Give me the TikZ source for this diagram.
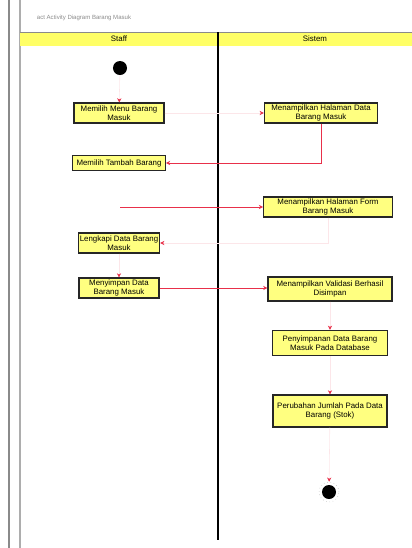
\documentclass[tikz,border=0pt]{standalone}
\usepackage{fontspec}
\setmainfont{Liberation Sans}
\usetikzlibrary{arrows.meta, positioning}
\definecolor{umlyellow}{HTML}{FFFF80}
\definecolor{laneyellow}{HTML}{FFFF66}
\definecolor{umlred}{HTML}{E8304A}
\definecolor{umlgray}{HTML}{8A8A8A}

\begin{document}
\begin{tikzpicture}[
  x=0.025cm, y=-0.025cm,
  every node/.style={font=\fontsize{5.6}{6.3}\selectfont},
  actbox/.style={rectangle, draw=black!85, line width=0.8pt, fill=umlyellow, align=center, minimum height=0.5cm, inner sep=1pt},
  flow/.style={umlred, line width=0.7pt, -{Stealth[length=3pt, width=3pt]}},
  faintflow/.style={umlred!12, line width=0.4pt, -{Stealth[length=3pt, width=3pt, color=umlred]}},
  dot/.style={circle, fill=black, inner sep=0pt},
]
\useasboundingbox (0,0) rectangle (412,548);

% frame and swimlanes
\draw[umlgray, line width=1.5pt] (9,0) -- (9,548);
\draw[umlgray!70, line width=0.8pt] (20,0) -- (20,548);
\node[anchor=west, text=umlgray, font=\fontsize{4.3}{5}\selectfont] (title) at (32,18) {act Activity Diagram Barang Masuk};
\fill[laneyellow] (20,32) rectangle (412,46);
\draw[umlgray, line width=0.4pt] (20,32) -- (412,32);
\draw[black, line width=0.8pt] (218,32) -- (218,540);
\node (staff) at (119,39) {Staff};
\node (sistem) at (315,39) {Sistem};

% activities
\node[dot, minimum size=0.35cm] (start) at (120,68) {};
\node[actbox, minimum width=2.25cm] (menu) at (119,113) {Memilih Menu Barang\\Masuk};
\node[actbox, minimum width=2.83cm] (halaman) at (321,113) {Menampilkan Halaman Data\\Barang Masuk};
\node[actbox, minimum width=2.32cm, minimum height=0.38cm] (tambah) at (119,163) {Memilih Tambah Barang};
\node[actbox, minimum width=3.22cm] (form) at (328,207) {Menampilkan Halaman Form\\Barang Masuk};
\node[actbox, minimum width=2.03cm] (isi) at (119,243) {Lengkapi Data Barang\\Masuk};
\node[actbox, minimum width=2.0cm] (simpan) at (119,288) {Menyimpan Data\\Barang Masuk};
\node[actbox, minimum width=3.1cm, minimum height=0.6cm] (validasi) at (330,289) {Menampilkan Validasi Berhasil\\Disimpan};
\node[actbox, minimum width=2.88cm, minimum height=0.63cm] (database) at (330,343) {Penyimpanan Data Barang\\Masuk Pada Database};
\node[actbox, minimum width=2.85cm, minimum height=0.8cm] (stok) at (330,411) {Perubahan Jumlah Pada Data\\Barang (Stok)};
\node[circle, draw=black!25, line width=0.4pt, dotted, minimum size=0.5cm] (endring) at (329,492) {};
\node[dot, minimum size=0.35cm] (end) at (329,492) {};
\coordinate (formin) at (120,207);

% flows
\draw[faintflow] (start) -- (menu);
\draw[faintflow] (menu) -- (halaman);
\draw[flow] (halaman.south) |- (tambah.east);
\draw[flow] (formin) -- (form.west);
\draw[faintflow] (form.south) |- (isi.east);
\draw[faintflow] (isi) -- (simpan);
\draw[flow] (simpan.east) -- (simpan.east -| validasi.west);
\draw[faintflow] (validasi) -- (database);
\draw[faintflow] (database) -- (stok);
\draw[faintflow] (stok) -- (endring);
\end{tikzpicture}
\end{document}
